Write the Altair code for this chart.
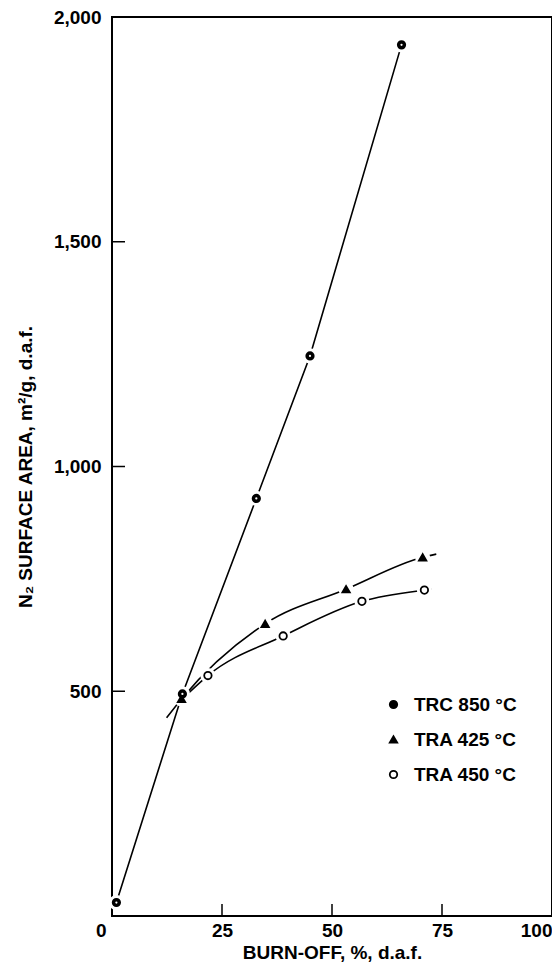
import altair as alt
import pandas as pd

# ---- data ----
series = ["TRC 850 °C", "TRA 425 °C", "TRA 450 °C"]

trc_x = [1.0, 16.0, 32.8, 45.0, 65.8]
trc_y = [30, 494, 929, 1246, 1938]

tra425_x = [15.8, 34.8, 53.2, 70.6]
tra425_y = [483, 650, 727, 798]

tra450_x = [21.8, 38.9, 56.8, 71.0]
tra450_y = [535, 623, 700, 725]

# drawn smooth curves (free ends)
curve425_x = [12.4, 15.8, 34.8, 53.2, 70.6, 73.7]
curve425_y = [441, 483, 650, 727, 798, 805]
curve450_x = [17.5, 21.8, 38.9, 56.8, 71.0, 72.6]
curve450_y = [497, 535, 623, 700, 725, 727]

x_ticks = [0, 25, 50, 75, 100]
y_ticks = [500, 1000, 1500, 2000]
x_inner_ticks = [25, 50, 75]
y_inner_ticks = [500, 1000, 1500]

# ---- tables ----
pts = pd.DataFrame(
    [{"series": series[0], "x": x, "y": y} for x, y in zip(trc_x, trc_y)]
    + [{"series": series[1], "x": x, "y": y} for x, y in zip(tra425_x, tra425_y)]
    + [{"series": series[2], "x": x, "y": y} for x, y in zip(tra450_x, tra450_y)]
)
trc_df = pd.DataFrame({"x": trc_x, "y": trc_y, "series": series[0]})
curves = pd.DataFrame(
    [{"series": series[1], "x": x, "y": y, "o": i} for i, (x, y) in enumerate(zip(curve425_x, curve425_y))]
    + [{"series": series[2], "x": x, "y": y, "o": i} for i, (x, y) in enumerate(zip(curve450_x, curve450_y))]
)
xt = pd.DataFrame({"v": x_inner_ticks})
yt = pd.DataFrame({"v": y_inner_ticks})

W, H = 440, 899
FONT = "Liberation Sans"
FS = 19

xscale = alt.Scale(domain=[0, 100], nice=False, zero=False)
yscale = alt.Scale(domain=[0, 2000], nice=False, zero=False)

x_axis = alt.Axis(
    values=x_ticks, format="d", grid=False, ticks=False, tickSize=0, domain=False,
    labelPadding=5, labelFlush=False,
    labelAlign={"condition": {"test": "datum.value == 0 || datum.value == 100", "value": "right"}, "value": "center"},
    labelOffset={"condition": {"test": "datum.value == 0", "value": -6}, "value": 0},
    title="BURN-OFF, %, d.a.f.", titlePadding=3,
)
y_axis = alt.Axis(
    values=y_ticks, format=",d", grid=False, ticks=False, tickSize=0, domain=False,
    labelPadding=11, labelFlush=False,
    title="N₂ SURFACE AREA, m²/g, d.a.f.", titlePadding=18,
)

X = alt.X("x:Q", scale=xscale, axis=x_axis)
Y = alt.Y("y:Q", scale=yscale, axis=y_axis)

trc_line = alt.Chart(trc_df).mark_line(color="black", strokeWidth=1.6).encode(x=X, y=Y)

curve_lines = alt.Chart(curves).mark_line(
    color="black", strokeWidth=1.6, interpolate="monotone"
).encode(x="x:Q", y="y:Q", detail="series:N", order="o:Q")

halos = alt.Chart(pts).mark_point(
    filled=True, color="white", opacity=1, size=230, shape="circle"
).encode(x="x:Q", y="y:Q")

legend = alt.Legend(title=None)
markers = alt.Chart(pts).mark_point(
    filled=True, strokeWidth=1.8, size=55, opacity=1
).encode(
    x="x:Q", y="y:Q",
    shape=alt.Shape("series:N", scale=alt.Scale(domain=series, range=["circle", "triangle-up", "circle"]),
                    legend=legend),
    fill=alt.Fill("series:N", scale=alt.Scale(domain=series, range=["black", "black", "white"]),
                  legend=legend),
    stroke=alt.Stroke("series:N", scale=alt.Scale(domain=series, range=["black", "black", "black"]),
                      legend=legend),
)

trc_dots = alt.Chart(trc_df).mark_point(
    filled=True, color="white", opacity=1, size=5, shape="circle"
).encode(x="x:Q", y="y:Q")

y_tick_rules = alt.Chart(yt).mark_rule(color="black", strokeWidth=1.5).encode(
    y=alt.Y("v:Q", scale=yscale), x=alt.value(0), x2=alt.value(13)
)
x_tick_rules = alt.Chart(xt).mark_rule(color="black", strokeWidth=1.5).encode(
    x=alt.X("v:Q", scale=xscale), y=alt.value(H), y2=alt.value(H - 12)
)

chart = alt.layer(
    trc_line, curve_lines, halos, markers, trc_dots, y_tick_rules, x_tick_rules
).properties(
    width=W, height=H,
    autosize=alt.AutoSizeParams(type="none"),
    padding={"left": 104, "top": 9, "right": 0, "bottom": 46},
).configure_view(
    stroke="black", strokeWidth=2
).configure_axis(
    labelFont=FONT, labelFontSize=FS, labelFontWeight="bold", labelColor="black",
    titleFont=FONT, titleFontSize=FS, titleFontWeight="bold", titleColor="black",
).configure_legend(
    orient="none", legendX=272, legendY=678,
    labelFont=FONT, labelFontSize=FS, labelFontWeight="bold", labelColor="black",
    symbolStrokeColor="black", symbolStrokeWidth=1.8, symbolSize=55,
    labelOffset=11, rowPadding=15, padding=0,
)

chart.save("out.html", embed_options={"renderer": "svg", "actions": False})
